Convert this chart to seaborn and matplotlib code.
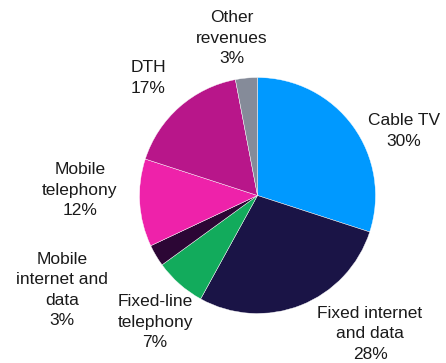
import matplotlib
matplotlib.use("Agg")
import matplotlib.pyplot as plt
import seaborn as sns

categories = ["Cable TV", "Fixed internet\nand data", "Fixed-line\ntelephony",
              "Mobile\ninternet and\ndata", "Mobile\ntelephony", "DTH", "Other\nrevenues"]
shares = [30, 28, 7, 3, 12, 17, 3]
colors = ["#0099ff", "#1a1446", "#12ab5c", "#2c0635", "#ee22aa", "#b8168a", "#858b99"]

# label centre positions in pixels (layout only)
label_px = [(404, 131), (370, 334), (155, 322), (62, 290), (80, 190), (148, 78), (232, 38)]

sns.set_theme(style="white")
plt.rcParams['font.family'] = ['Liberation Sans', 'DejaVu Sans']

W, H = 446, 363
fig = plt.figure(figsize=(W / 100, H / 100), dpi=100)
ax = fig.add_axes([0, 0, 1, 1])
cx, cy, R = 257.5, 195.5, 118.0

ax.pie(shares, colors=colors, startangle=90, counterclock=False,
       wedgeprops=dict(edgecolor="white", linewidth=0.3))
ax.set_xlim(-cx / R, (W - cx) / R)
ax.set_ylim(-(H - cy) / R, cy / R)
ax.set_aspect('equal', adjustable='box')
ax.axis('off')

for cat, val, (px, py) in zip(categories, shares, label_px):
    ax.text((px - cx) / R, (cy - py) / R, f"{cat}\n{val}%", ha='center', va='center',
            fontsize=12.5, color='#1a1a1a', linespacing=1.42)

fig.savefig("out.png", dpi=100)
